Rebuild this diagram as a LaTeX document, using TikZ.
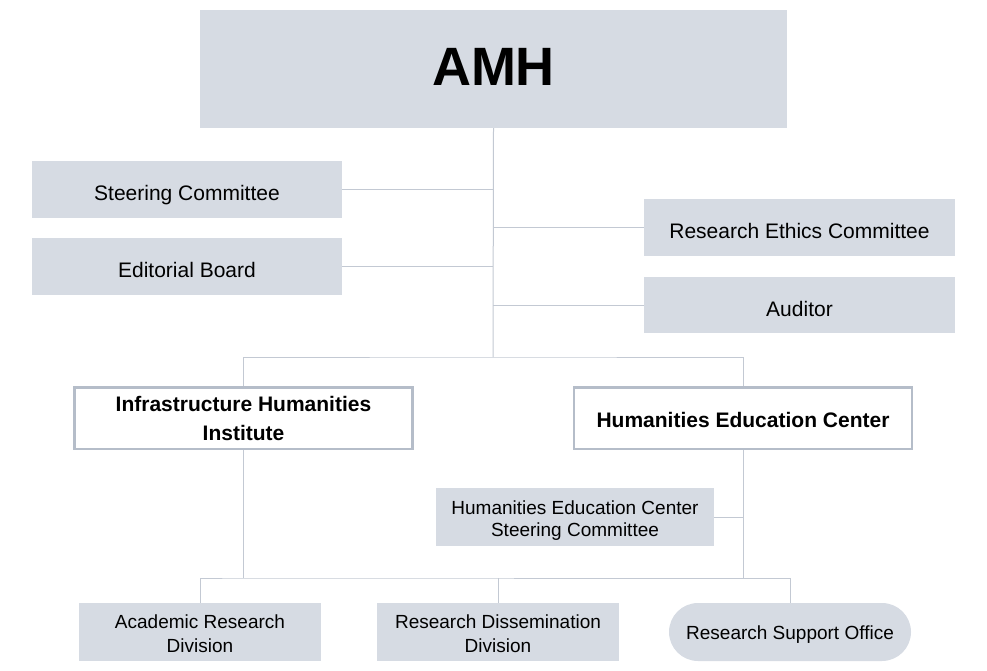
\documentclass[tikz,border=0pt]{standalone}
\usepackage{fontspec}
\setmainfont{Liberation Sans}
\definecolor{boxgray}{HTML}{D6DBE3}
\definecolor{linegray}{HTML}{C3C9D3}
\definecolor{framegray}{HTML}{B5BDC9}
\begin{document}
\begin{tikzpicture}[x=1pt,y=-1pt,
  unit/.style={fill=boxgray,inner sep=0pt,align=center,minimum height=57pt,text height=22.4pt,text depth=0pt,font=\fontsize{21}{26}\selectfont},
  subunit/.style={unit,minimum width=242pt,minimum height=58pt,text height=41pt,font=\fontsize{19}{24.4}\selectfont},
  inst/.style={draw=framegray,line width=2.5pt,fill=white,inner sep=0pt,align=center,minimum width=338pt,minimum height=61.5pt,text depth=0pt,font=\fontsize{21}{28.3}\selectfont\bfseries},
  link/.style={draw=linegray,line width=1pt}]
\useasboundingbox (0,0) rectangle (987,671);
\node[unit,minimum width=587pt,minimum height=118pt,text height=34pt,font=\fontsize{54}{60}\selectfont\bfseries] (amh) at (493.5,69) {AMH};
\node[unit,minimum width=310pt] (steer) at (187,189.5) {Steering Committee};
\node[unit,minimum width=310pt] (edit) at (187,266.5) {Editorial Board};
\node[unit,minimum width=311pt] (ethics) at (799.5,227.5) {Research Ethics Committee};
\node[unit,minimum width=311pt,minimum height=56pt] (audit) at (799.5,305) {Auditor};
\node[inst,text height=44pt] (ihi) at (243.5,418) {Infrastructure Humanities\\Institute};
\node[inst,text height=19.5pt] (hec) at (743,418) {Humanities Education Center};
\node[subunit,minimum width=278pt,text height=39.4pt,font=\fontsize{19}{22.4}\selectfont] (hecsc) at (575,517) {Humanities Education Center\\Steering Committee};
\node[subunit] (ard) at (200,632) {Academic Research\\Division};
\node[subunit] (rdd) at (498,632) {Research Dissemination\\Division};
\node[subunit,rounded corners=29pt,text height=14.6pt] (rso) at (790,632) {Research Support Office};
\coordinate (split) at (493,357);
\coordinate (lowbar) at (243.5,578);
\draw[link] (amh.south) -- (split);
\draw[link] (ihi.north) |- (split) -| (hec.north);
\foreach \n in {steer,edit} \draw[link] (\n.east) -- (\n.east -| split);
\foreach \n in {ethics,audit} \draw[link] (\n.west) -- (\n.west -| split);
\draw[link] (hecsc.east) -- (hecsc.east -| hec.south);
\draw[link] (ihi.south) -- (ihi.south |- lowbar);
\draw[link] (hec.south) -- (hec.south |- lowbar);
\draw[link] (ard.north) |- (lowbar) -| (rso.north);
\draw[link] (rdd.north) -- (rdd.north |- lowbar);
\end{tikzpicture}
\end{document}
